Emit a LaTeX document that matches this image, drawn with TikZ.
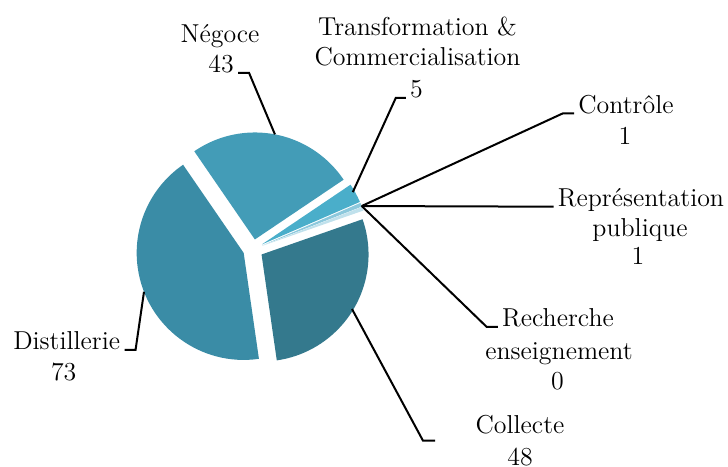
\documentclass[tikz,border=0pt]{standalone}
\usepackage{xcolor}
\usepackage{tikz}

\definecolor{negocecol}{RGB}{67,156,183}
\definecolor{transcol}{RGB}{74,174,202}
\definecolor{ctrlcol}{RGB}{140,200,220}
\definecolor{reprcol}{RGB}{192,225,236}
\definecolor{collcol}{RGB}{52,121,141}
\definecolor{distcol}{RGB}{58,140,166}

\begin{document}
\begin{tikzpicture}[x=0.5bp, y=0.5bp]
      \tikzstyle{txt} = [font=\fontsize{13}{15.5}\selectfont, inner sep=2bp, anchor=base, align=center]
      \tikzstyle{leader} = [line width=1bp, line join=miter]

      \useasboundingbox (0,0) rectangle (728,467);
      \coordinate (o) at (253,217.7);

      % slices, each pulled out of the centre along its middle
      \fill[negocecol] (o) ++(79.2:10) -- ++(124.5:107) arc[start angle=124.5, end angle=33.97, radius=107] -- cycle;
      \fill[transcol] (o) ++(28.7:10) -- ++(33.97:107) arc[start angle=33.97, end angle=23.45, radius=107] -- cycle;
      \fill[ctrlcol] (o) ++(22.4:10) -- ++(23.45:107) arc[start angle=23.45, end angle=21.34, radius=107] -- cycle;
      \fill[reprcol] (o) ++(20.3:10) -- ++(21.34:107) arc[start angle=21.34, end angle=19.24, radius=107] -- cycle;
      \fill[collcol] (o) ++(-31.3:10) -- ++(19.24:107) arc[start angle=19.24, end angle=-81.81, radius=107] -- cycle;
      \fill[distcol] (o) ++(-158.7:10) -- ++(-81.81:107) arc[start angle=-81.81, end angle=-235.5, radius=107] -- cycle;

      % labels
      \node[txt] (negoce) at (220,424) {Négoce};
      \node[txt] (negoceval) at (221,394) {43};
      \node[txt] (transfo) at (417.5,401) {Transformation \&\\Commercialisation};
      \node[txt] (transfoval) at (416.5,369) {5};
      \node[txt] (ctrl) at (626,353.7) {Contrôle};
      \node[txt] (ctrlval) at (625,322) {1};
      \node[txt] (repr) at (641,260.3) {Représentation};
      \node[txt] (reprsub) at (640,230.3) {publique};
      \node[txt] (reprval) at (638,202) {1};
      \node[txt] (rech) at (558,140) {Recherche};
      \node[txt] (rechsub) at (559,107) {enseignement};
      \node[txt] (rechval) at (557.5,77) {0};
      \node[txt] (coll) at (520,33) {Collecte};
      \node[txt] (collval) at (520,1.5) {48};
      \node[txt] (dist) at (66.7,117) {Distillerie};
      \node[txt] (distval) at (63.7,86.3) {73};

      % leader lines
      \path (o) ++(79.2:117) coordinate (negocepin);
      \path (o) ++(29.8:115) coordinate (transfopin);
      \path (o) ++(21.7:117) coordinate (smallpin);
      \path (o) ++(-31.1:115.6) coordinate (collpin);
      \path (o) ++(201.3:117) coordinate (distpin);
      \coordinate (collend) at (435,26.3);

      \draw[leader] (negoceval.base east) -- ++(11,0) -- (negocepin);
      \draw[leader] (transfoval.base west) -- ++(-10,0) -- (transfopin);
      \draw[leader] (ctrl.base west) -- ++(-11,0) -- (smallpin);
      \draw[leader] (repr.base west) -- (smallpin);
      \draw[leader] (rech.base west) -- ++(-11,0) -- (smallpin);
      \draw[leader] (collend) -- ++(-12,0) -- (collpin);
      \draw[leader] (dist.base east) -- ++(11,0) -- (distpin);
    \end{tikzpicture}
\end{document}
